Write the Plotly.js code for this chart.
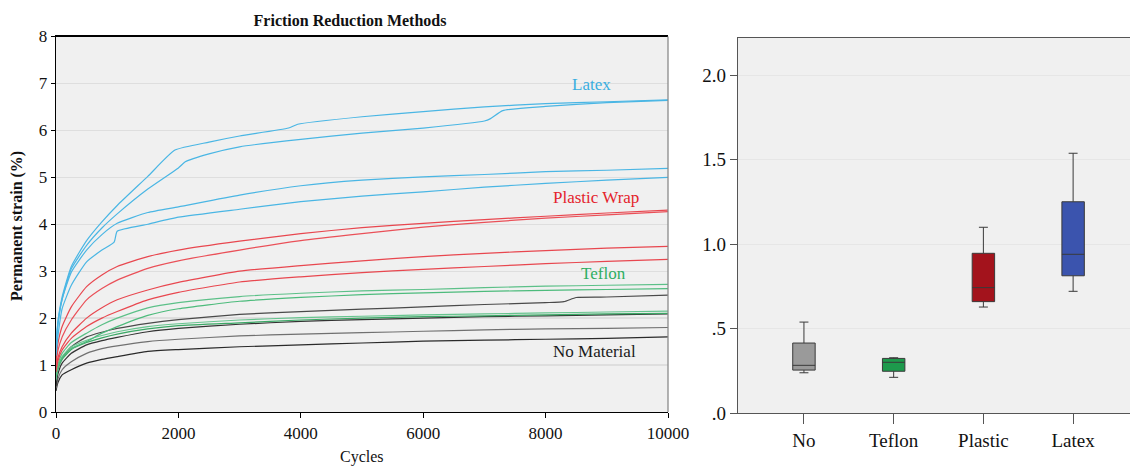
<!DOCTYPE html>
<html>
<head>
<meta charset="utf-8">
<script src="https://cdn.plot.ly/plotly-3.0.1.min.js"></script>
<style>html,body{margin:0;padding:0;background:#fff}#chart{width:1130px;height:466px}</style>
</head>
<body>
<div id="chart"></div>
<script>
// ---- Left chart: permanent strain curves ----
const cycBase = [0, 30, 100, 250, 500, 750, 1000, 1500, 2000, 3000, 4000, 5000, 6000, 7000, 8000, 9000, 10000];

const latex1X = [0, 30, 100, 250, 500, 750, 1000, 1500, 1944, 2500, 3000, 3800, 3950, 5000, 6000, 7000, 8000, 9000, 10000];
const latex1Y = [1.3, 1.9, 2.45, 3.1, 3.65, 4.05, 4.4, 5.02, 5.58, 5.75, 5.88, 6.05, 6.13, 6.29, 6.4, 6.5, 6.57, 6.61, 6.65];
const latex2X = [0, 30, 100, 250, 500, 750, 1000, 1500, 2000, 2112, 2500, 3000, 4000, 5000, 6000, 7000, 7100, 7300, 8000, 9000, 10000];
const latex2Y = [1.3, 1.85, 2.4, 3.05, 3.55, 3.92, 4.22, 4.75, 5.2, 5.33, 5.5, 5.65, 5.81, 5.94, 6.05, 6.2, 6.25, 6.42, 6.51, 6.59, 6.64];
const latex3Y = [1.4, 1.9, 2.4, 2.98, 3.45, 3.78, 4.02, 4.25, 4.37, 4.62, 4.82, 4.94, 5.01, 5.06, 5.12, 5.15, 5.19];
const latex4X = [0, 30, 100, 250, 500, 750, 950, 1000, 1500, 2000, 3000, 4000, 5000, 6000, 7000, 8000, 9000, 10000];
const latex4Y = [1.2, 1.6, 2.2, 2.7, 3.2, 3.45, 3.62, 3.85, 4.0, 4.15, 4.32, 4.48, 4.6, 4.69, 4.79, 4.87, 4.94, 5.0];

const plastic1Y = [1.1, 1.45, 1.82, 2.24, 2.67, 2.92, 3.1, 3.31, 3.45, 3.64, 3.8, 3.93, 4.02, 4.1, 4.17, 4.24, 4.3];
const plastic2Y = [1.0, 1.3, 1.6, 1.96, 2.39, 2.63, 2.81, 3.06, 3.22, 3.45, 3.65, 3.8, 3.94, 4.04, 4.13, 4.2, 4.27];
const plastic3Y = [0.9, 1.15, 1.39, 1.68, 2.0, 2.22, 2.39, 2.6, 2.76, 3.0, 3.12, 3.22, 3.31, 3.38, 3.44, 3.49, 3.53];
const plastic4Y = [0.85, 1.08, 1.32, 1.57, 1.82, 2.0, 2.14, 2.39, 2.55, 2.77, 2.88, 2.97, 3.04, 3.1, 3.16, 3.21, 3.25];

const teflon1Y = [0.8, 1.0, 1.25, 1.48, 1.68, 1.86, 2.0, 2.22, 2.33, 2.46, 2.53, 2.58, 2.61, 2.65, 2.68, 2.7, 2.72];
const teflon2Y = [0.75, 0.95, 1.15, 1.35, 1.5, 1.68, 1.82, 2.06, 2.2, 2.36, 2.44, 2.5, 2.54, 2.57, 2.59, 2.61, 2.63];
const teflon3Y = [0.7, 0.95, 1.18, 1.39, 1.53, 1.63, 1.71, 1.82, 1.88, 1.96, 2.01, 2.04, 2.07, 2.09, 2.11, 2.13, 2.15];
const teflon4Y = [0.68, 0.9, 1.12, 1.33, 1.48, 1.58, 1.66, 1.77, 1.84, 1.9, 1.96, 2.0, 2.03, 2.05, 2.07, 2.09, 2.1];

const none1X = [0, 30, 100, 250, 500, 750, 1000, 1500, 2000, 3000, 4000, 5000, 6000, 7000, 8000, 8300, 8500, 9000, 10000];
const none1Y = [0.7, 0.95, 1.15, 1.39, 1.6, 1.7, 1.78, 1.89, 1.97, 2.08, 2.14, 2.19, 2.24, 2.29, 2.33, 2.35, 2.44, 2.45, 2.49];
const none2Y = [0.55, 0.8, 1.04, 1.25, 1.43, 1.52, 1.59, 1.71, 1.78, 1.87, 1.93, 1.97, 2.0, 2.03, 2.05, 2.07, 2.09];
const none3Y = [0.5, 0.7, 0.9, 1.07, 1.25, 1.35, 1.41, 1.5, 1.55, 1.62, 1.66, 1.69, 1.72, 1.75, 1.77, 1.78, 1.8];
const none4Y = [0.45, 0.62, 0.79, 0.9, 1.04, 1.12, 1.18, 1.29, 1.33, 1.39, 1.43, 1.47, 1.51, 1.53, 1.55, 1.57, 1.6];

const xTickVals = [0, 2000, 4000, 6000, 8000, 10000];
const xTickText = ['0', '2000', '4000', '6000', '8000', '10000'];

// ---- Right chart: box plot ----
const boxCats = ['No', 'Teflon', 'Plastic', 'Latex'];
const boxLower = [0.238, 0.211, 0.627, 0.72];
const boxQ1 = [0.254, 0.247, 0.659, 0.812];
const boxMedian = [0.282, 0.30, 0.742, 0.939];
const boxQ3 = [0.414, 0.323, 0.945, 1.25];
const boxUpper = [0.538, 0.327, 1.099, 1.537];
const boxColors = ['#9a9a9a', '#1d9a4c', '#a3131c', '#3b54ae'];
const yTick2Vals = [0, 0.5, 1.0, 1.5, 2.0];
const yTick2Text = ['.0', '.5', '1.0', '1.5', '2.0'];

const FONT = 'Liberation Serif';
const cLatex = '#4ab6e4', cPlastic = '#e8474f', cTeflon = '#4dbb7c';

function line(x, y, color) {
  return {type: 'scatter', mode: 'lines', x: x, y: y, xaxis: 'x', yaxis: 'y',
          line: {color: color, width: 1.2, shape: 'spline', smoothing: 0.5},
          hoverinfo: 'skip', showlegend: false};
}

const traces = [
  line(cycBase, none4Y, '#2a2a2a'),
  line(cycBase, none3Y, '#707070'),
  line(cycBase, none2Y, '#333333'),
  line(none1X, none1Y, '#4a4a4a'),
  line(cycBase, teflon4Y, '#3aa865'),
  line(cycBase, teflon3Y, '#66c48e'),
  line(cycBase, teflon2Y, cTeflon),
  line(cycBase, teflon1Y, '#5cc088'),
  line(cycBase, plastic4Y, cPlastic),
  line(cycBase, plastic3Y, cPlastic),
  line(cycBase, plastic2Y, '#ea5058'),
  line(cycBase, plastic1Y, cPlastic),
  line(latex4X, latex4Y, cLatex),
  line(cycBase, latex3Y, cLatex),
  line(latex2X, latex2Y, cLatex),
  line(latex1X, latex1Y, cLatex)
];

for (let i = 0; i < boxCats.length; i++) {
  traces.push({
    type: 'box', xaxis: 'x2', yaxis: 'y2',
    x: [boxCats[i]], q1: [boxQ1[i]], median: [boxMedian[i]], q3: [boxQ3[i]],
    lowerfence: [boxLower[i]], upperfence: [boxUpper[i]],
    fillcolor: boxColors[i], line: {color: '#3a3a3a', width: 1},
    width: 0.25, whiskerwidth: 0.4, boxpoints: false,
    hoverinfo: 'skip', showlegend: false
  });
}

const W = 1130, H = 466;
const tf = (size, color) => ({family: FONT, size: size, color: color || '#111'});
const layout = {
  width: W, height: H,
  margin: {l: 0, r: 0, t: 0, b: 0},
  paper_bgcolor: '#ffffff', plot_bgcolor: '#f0f0f0',
  font: tf(16),
  showlegend: false,
  title: {text: '<b>Friction Reduction Methods</b>', x: 350 / W, xanchor: 'center',
          y: 1 - 20 / H, yanchor: 'middle', font: tf(16)},
  xaxis: {domain: [56 / W, 668 / W], range: [0, 10000], tickvals: xTickVals, ticktext: xTickText,
          ticks: 'outside', ticklen: 5, tickcolor: '#000', showline: true, linecolor: '#000',
          linewidth: 1.3, mirror: true, showgrid: false, zeroline: false,
          tickfont: tf(17), anchor: 'y'},
  yaxis: {domain: [(H - 412) / H, (H - 36.5) / H], range: [0, 8], dtick: 1,
          ticks: 'outside', ticklen: 4, tickcolor: '#000', showline: true, linecolor: '#000',
          linewidth: 1.3, showgrid: true, gridcolor: '#dedede', gridwidth: 1.3, zeroline: false,
          tickfont: tf(17), anchor: 'x'},
  xaxis2: {domain: [738 / W, 1], range: [-0.735, 3.634], type: 'category',
           ticks: 'outside', ticklen: 10, tickcolor: '#555', showline: true, linecolor: '#555',
           linewidth: 1.3, mirror: true, showgrid: false, zeroline: false,
           tickfont: tf(19), anchor: 'y2'},
  yaxis2: {domain: [(H - 413) / H, (H - 38) / H], range: [0, 2.219],
           tickvals: yTick2Vals, ticktext: yTick2Text,
           ticks: 'outside', ticklen: 7, tickcolor: '#555', showline: true, linecolor: '#555',
           linewidth: 1.3, showgrid: true, gridcolor: '#e6e6e6', gridwidth: 1, zeroline: false,
           tickfont: tf(19), anchor: 'x2'},
  shapes: [
    {type: 'line', xref: 'paper', yref: 'paper', x0: 668 / W, x1: 668 / W,
     y0: (H - 412) / H, y1: (H - 36.5) / H, line: {color: '#8a8a8a', width: 1.3}}
  ],
  annotations: [
    {text: '<b>Permanent strain (%)</b>', xref: 'paper', yref: 'paper', x: 17 / W, y: 1 - 226 / H,
     textangle: -90, showarrow: false, font: tf(16), xanchor: 'center', yanchor: 'middle'},
    {text: 'Cycles', xref: 'paper', yref: 'paper', x: 362 / W, y: 1 - 457 / H,
     showarrow: false, font: tf(16), xanchor: 'center', yanchor: 'middle'},
    {text: 'Latex', xref: 'x', yref: 'y', x: 8758, y: 6.97, showarrow: false, font: tf(17, '#3aaee0')},
    {text: 'Plastic Wrap', xref: 'x', yref: 'y', x: 8824, y: 4.56, showarrow: false, font: tf(17, '#e4232c')},
    {text: 'Teflon', xref: 'x', yref: 'y', x: 8938, y: 2.96, showarrow: false, font: tf(17, '#2fae62')},
    {text: 'No Material', xref: 'x', yref: 'y', x: 8807, y: 1.28, showarrow: false, font: tf(17, '#1a1a1a')}
  ]
};

Plotly.newPlot('chart', traces, layout, {staticPlot: true, displayModeBar: false});
</script>
</body>
</html>
